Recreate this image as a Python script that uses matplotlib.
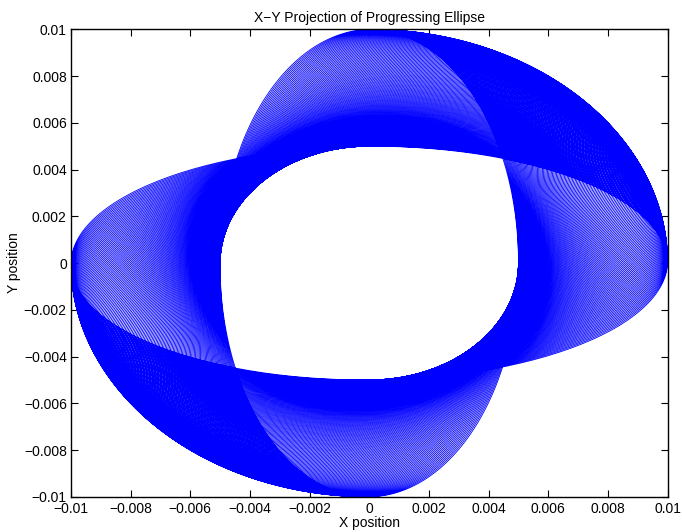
import numpy as np
import matplotlib.pyplot as plt

plt.rcParams['font.family'] = ['Liberation Sans', 'DejaVu Sans']

# orbit parameters
semi_major = 0.01
semi_minor = 0.005
n_orbits = 150            # revolutions traced while the ellipse turns
turn_start = 0.0          # orientation of the major axis at the start (rad)
turn_end = np.pi / 2      # orientation at the end (rad)
pts_per_orbit = 240

x_ticks = [-0.01, -0.008, -0.006, -0.004, -0.002, 0, 0.002, 0.004, 0.006, 0.008, 0.01]
y_ticks = [-0.01, -0.008, -0.006, -0.004, -0.002, 0, 0.002, 0.004, 0.006, 0.008, 0.01]
tick_labels = ['\u22120.01', '\u22120.008', '\u22120.006', '\u22120.004', '\u22120.002', '0',
               '0.002', '0.004', '0.006', '0.008', '0.01']

t = np.linspace(0, 2 * np.pi * n_orbits, n_orbits * pts_per_orbit)
phi = np.linspace(turn_start, turn_end, t.size)
xe = semi_major * np.cos(t)
ye = semi_minor * np.sin(t)
x = xe * np.cos(phi) - ye * np.sin(phi)
y = xe * np.sin(phi) + ye * np.cos(phi)

fig = plt.figure(figsize=(6.82, 5.32), dpi=100)
ax = fig.add_axes([0.104, 0.066, 0.875, 0.879])
ax.plot(x, y, color='blue', linewidth=0.6)

ax.set_xlim(-0.01, 0.01)
ax.set_ylim(-0.01, 0.01)
ax.set_xticks(x_ticks)
ax.set_xticklabels(tick_labels)
ax.set_yticks(y_ticks)
ax.set_yticklabels(tick_labels)
ax.tick_params(direction='in', top=True, right=True, length=5, labelsize=10, pad=3)
ax.tick_params(axis='x', pad=4)
for s in ax.spines.values():
    s.set_linewidth(1.0)

ax.set_title('X\u2212Y Projection of Progressing Ellipse', fontsize=10, pad=5)
ax.set_xlabel('X position', fontsize=10, labelpad=0)
ax.set_ylabel('Y position', fontsize=10, labelpad=2)

fig.savefig('out.png', dpi=100)
